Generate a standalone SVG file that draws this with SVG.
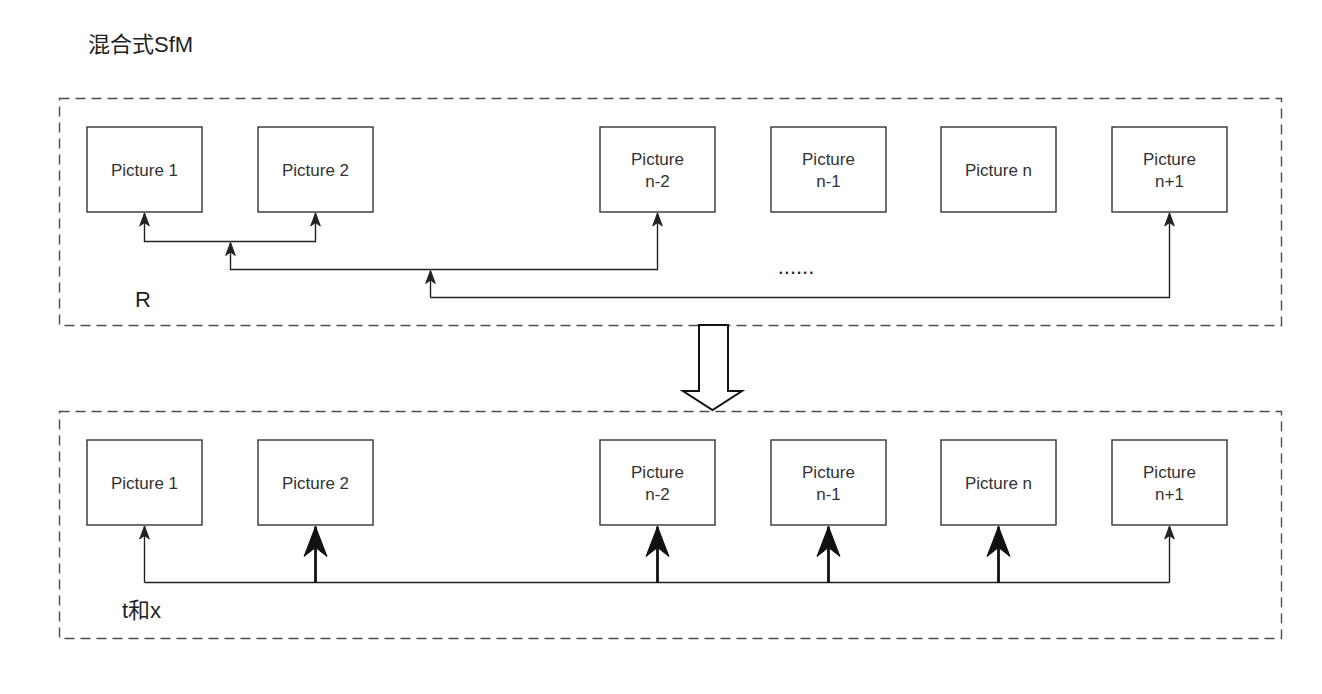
<svg xmlns="http://www.w3.org/2000/svg" width="1322" height="694" viewBox="0 0 1322 694">
<style>
.bg{fill:#ffffff}
.cont{fill:none;stroke:#4d4d4d;stroke-width:1.4;stroke-dasharray:10 6}
.box{fill:#ffffff;stroke:#333333;stroke-width:1.4}
.lbl{font-family:"Liberation Sans","Noto Sans CJK SC",sans-serif;font-size:17px;fill:#333333;text-anchor:middle}
.big{font-family:"Liberation Sans","Noto Sans CJK SC",sans-serif;font-size:22px;fill:#222222}
.thin{fill:none;stroke:#222222;stroke-width:1.4}
.thick{fill:none;stroke:#111111;stroke-width:2.8}
</style>
<defs>
<marker id="ah" markerUnits="userSpaceOnUse" markerWidth="16" markerHeight="12" refX="0" refY="0" viewBox="-14 -6 16 12" orient="auto" overflow="visible">
<path d="M0,0 L-13,-4.8 L-9.5,0 L-13,4.8 Z" fill="#222222" stroke="#222222" stroke-width="1"/>
</marker>
<marker id="ahb" markerUnits="userSpaceOnUse" markerWidth="32" markerHeight="26" refX="0" refY="0" viewBox="-31 -13 32 26" orient="auto" overflow="visible">
<path d="M0,0 L-30,-11.5 L-21,0 L-30,11.5 Z" fill="#111111" stroke="#111111" stroke-width="1"/>
</marker>
</defs>
<rect class="bg" x="0" y="0" width="1322" height="694"/>

<g id="title"><text class="big" x="88" y="52">混合式SfM</text></g>

<g id="container-top">
<rect class="cont" x="59.5" y="98.5" width="1222" height="227"/>
<text class="big" x="135" y="307">R</text>
<text class="big" x="796" y="274" text-anchor="middle">......</text>
</g>

<g id="container-bottom">
<rect class="cont" x="59.5" y="411.5" width="1222" height="227"/>
<text class="big" x="122" y="618">t和x</text>
</g>

<g id="top-pic1"><rect class="box" x="87" y="127" width="115" height="85"/><text class="lbl" x="144.5" y="176">Picture 1</text></g>
<g id="top-pic2"><rect class="box" x="258" y="127" width="115" height="85"/><text class="lbl" x="315.5" y="176">Picture 2</text></g>
<g id="top-picn-2"><rect class="box" x="600" y="127" width="115" height="85"/><text class="lbl" x="657.5" y="165">Picture</text><text class="lbl" x="657.5" y="187">n-2</text></g>
<g id="top-picn-1"><rect class="box" x="771" y="127" width="115" height="85"/><text class="lbl" x="828.5" y="165">Picture</text><text class="lbl" x="828.5" y="187">n-1</text></g>
<g id="top-picn"><rect class="box" x="941" y="127" width="115" height="85"/><text class="lbl" x="998.5" y="176">Picture n</text></g>
<g id="top-picn+1"><rect class="box" x="1112" y="127" width="115" height="85"/><text class="lbl" x="1169.5" y="165">Picture</text><text class="lbl" x="1169.5" y="187">n+1</text></g>

<g id="bot-pic1"><rect class="box" x="87" y="440" width="115" height="85"/><text class="lbl" x="144.5" y="489">Picture 1</text></g>
<g id="bot-pic2"><rect class="box" x="258" y="440" width="115" height="85"/><text class="lbl" x="315.5" y="489">Picture 2</text></g>
<g id="bot-picn-2"><rect class="box" x="600" y="440" width="115" height="85"/><text class="lbl" x="657.5" y="478">Picture</text><text class="lbl" x="657.5" y="500">n-2</text></g>
<g id="bot-picn-1"><rect class="box" x="771" y="440" width="115" height="85"/><text class="lbl" x="828.5" y="478">Picture</text><text class="lbl" x="828.5" y="500">n-1</text></g>
<g id="bot-picn"><rect class="box" x="941" y="440" width="115" height="85"/><text class="lbl" x="998.5" y="489">Picture n</text></g>
<g id="bot-picn+1"><rect class="box" x="1112" y="440" width="115" height="85"/><text class="lbl" x="1169.5" y="478">Picture</text><text class="lbl" x="1169.5" y="500">n+1</text></g>

<g id="connectors">
<path class="thin" d="M230.5 241.5 H144.5 V213" marker-end="url(#ah)"/>
<path class="thin" d="M230.5 241.5 H315.5 V213" marker-end="url(#ah)"/>
<path class="thin" d="M430.5 269.5 H230.5 V242.5" marker-end="url(#ah)"/>
<path class="thin" d="M430.5 269.5 H657.5 V213" marker-end="url(#ah)"/>
<path class="thin" d="M430.5 297.5 V270.5" marker-end="url(#ah)"/>
<path class="thin" d="M430.5 297.5 H1169.5 V213" marker-end="url(#ah)"/>

<path class="thin" d="M144.5 582.5 H1169.5"/>
<path class="thin" d="M144.5 582.5 V526" marker-end="url(#ah)"/>
<path class="thin" d="M1169.5 582.5 V526" marker-end="url(#ah)"/>
<path class="thick" d="M315.5 582.5 V526.5" marker-end="url(#ahb)"/>
<path class="thick" d="M657.5 582.5 V526.5" marker-end="url(#ahb)"/>
<path class="thick" d="M828.5 582.5 V526.5" marker-end="url(#ahb)"/>
<path class="thick" d="M998.5 582.5 V526.5" marker-end="url(#ahb)"/>

<polygon points="699,325 728,325 728,391 742,391 712.5,410 683,391 699,391" fill="#ffffff" stroke="#111111" stroke-width="2" stroke-linejoin="miter"/>
</g>
</svg>
